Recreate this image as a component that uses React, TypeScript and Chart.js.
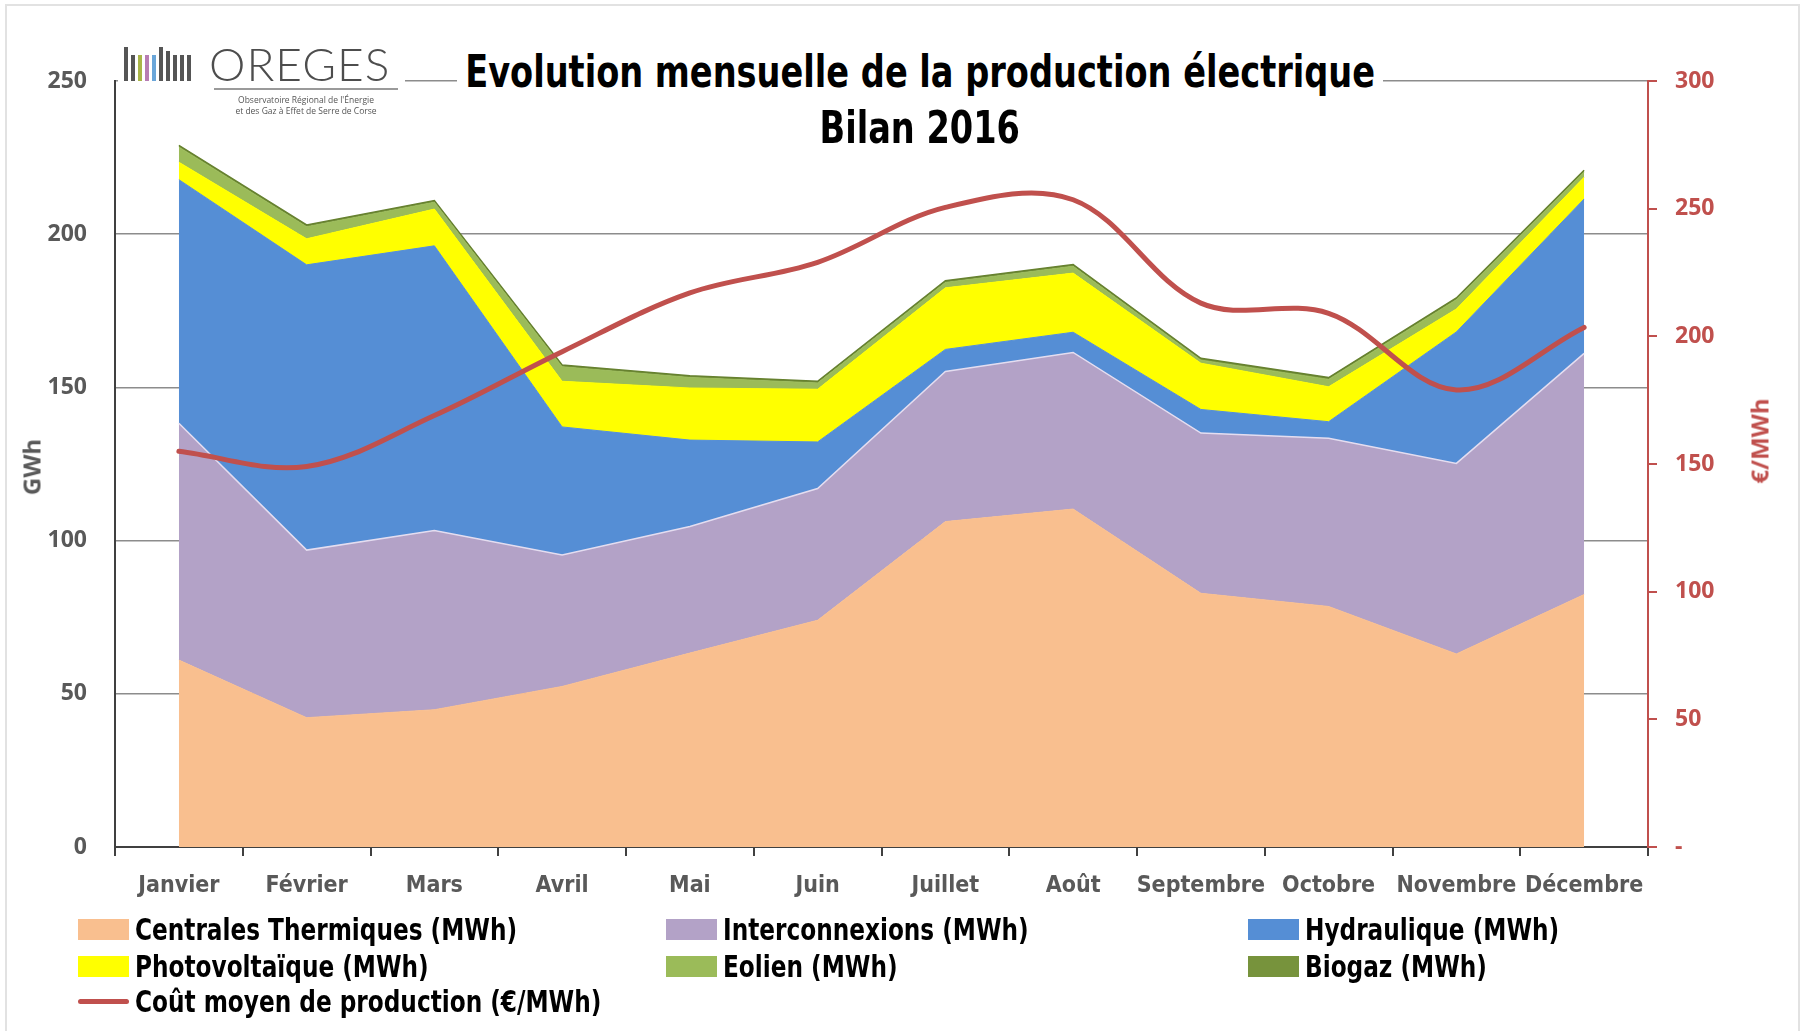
import React, { useEffect, useRef } from 'react';
import { Chart, registerables } from 'chart.js';

Chart.register(...registerables);

// ---------- DATA (GWh per month, cost in €/MWh) ----------
const months = ['Janvier', 'Février', 'Mars', 'Avril', 'Mai', 'Juin', 'Juillet', 'Août', 'Septembre', 'Octobre', 'Novembre', 'Décembre'];
const thermique = [61, 42.2, 44.8, 52.4, 63.3, 74, 106.2, 110.3, 82.8, 78.5, 63, 82.4];
const interconnexions = [77.3, 54.7, 58.5, 42.9, 41.3, 43, 49, 51.1, 52.3, 54.9, 62.2, 78.7];
const hydraulique = [79.5, 93.1, 92.9, 41.8, 28.2, 15.2, 7.2, 6.6, 7.7, 5.4, 42.9, 50.4];
const photovoltaique = [5.7, 8.5, 12, 14.9, 17, 17.2, 20.1, 19.3, 15.1, 11.4, 7.5, 7.1];
const eolien = [4.9, 3.9, 2.2, 4.7, 3.4, 2.0, 1.7, 2.2, 1.0, 2.4, 3.0, 1.7];
const biogaz = [0.6, 0.6, 0.6, 0.6, 0.6, 0.6, 0.6, 0.6, 0.6, 0.6, 0.6, 0.6];
const coutMoyen = [155, 149, 169, 194, 217, 229, 250.5, 253.5, 213, 209, 179, 203.5];

const leftAxis = { min: 0, max: 250, step: 50 };
const rightAxis = { min: 0, max: 300, step: 50 };

const titleLine1 = 'Evolution mensuelle de la production électrique';
const titleLine2 = 'Bilan 2016';
const leftTitle = 'GWh';
const rightTitle = '€/MWh';

const labels = {
  thermique: 'Centrales Thermiques (MWh)',
  interconnexions: 'Interconnexions (MWh)',
  hydraulique: 'Hydraulique (MWh)',
  photovoltaique: 'Photovoltaïque (MWh)',
  eolien: 'Eolien (MWh)',
  biogaz: 'Biogaz (MWh)',
  cout: 'Coût moyen de production (€/MWh)',
};

// ---------- STYLE ----------
const W = 1807;
const H = 1031;
const PLOT = { left: 115, right: 1648, top: 81, bottom: 847 };
const FONT_NARROW = "'Liberation Sans Narrow', 'DejaVu Sans Condensed', 'Open Sans', sans-serif";
const FONT_NUM = "'Open Sans', 'DejaVu Sans', sans-serif";
const C = {
  thermique: '#F9BF8F',
  interconnexions: '#B3A2C7',
  hydraulique: '#558ED5',
  photovoltaique: '#FFFF00',
  eolien: '#9BBB59',
  biogaz: '#77933C',
  cout: '#C0504D',
  axisGrey: '#595959',
};

const legendItems: { key: keyof typeof labels; col: number; row: number; line?: boolean }[] = [
  { key: 'thermique', col: 0, row: 0 },
  { key: 'interconnexions', col: 1, row: 0 },
  { key: 'hydraulique', col: 2, row: 0 },
  { key: 'photovoltaique', col: 0, row: 1 },
  { key: 'eolien', col: 1, row: 1 },
  { key: 'biogaz', col: 2, row: 1 },
  { key: 'cout', col: 0, row: 2, line: true },
];
const legendCols = [78, 666, 1248];
const legendRows = [929, 966, 1001];

const logoBars = [
  { h: 34, c: '#555555' },
  { h: 26, c: '#555555' },
  { h: 26, c: '#A9B548' },
  { h: 26, c: '#B77CB3' },
  { h: 26, c: '#6AA6D9' },
  { h: 34, c: '#555555' },
  { h: 30, c: '#555555' },
  { h: 26, c: '#555555' },
  { h: 26, c: '#555555' },
  { h: 26, c: '#555555' },
];

export default function App() {
  const ref = useRef<HTMLCanvasElement | null>(null);

  useEffect(() => {
    const canvas = ref.current;
    if (!canvas) return;

    const area = (label: string, data: number[], color: string, idx: number, border?: string, bw?: number) => ({
      type: 'line' as const,
      label,
      data,
      yAxisID: 'y',
      backgroundColor: color,
      borderColor: border ?? color,
      borderWidth: bw ?? 1,
      fill: idx === 0 ? 'origin' : '-1',
      pointRadius: 0,
      pointHoverRadius: 0,
      tension: 0,
      order: 1,
    });

    const chart = new Chart(canvas, {
      type: 'line',
      data: {
        labels: months,
        datasets: [
          area(labels.thermique, thermique, C.thermique, 0),
          area(labels.interconnexions, interconnexions, C.interconnexions, 1, '#E4DDF0', 1.5),
          area(labels.hydraulique, hydraulique, C.hydraulique, 2),
          area(labels.photovoltaique, photovoltaique, C.photovoltaique, 3),
          area(labels.eolien, eolien, C.eolien, 4),
          area(labels.biogaz, biogaz, C.biogaz, 5, '#66812F', 1.5),
          {
            type: 'line' as const,
            label: labels.cout,
            data: coutMoyen,
            yAxisID: 'y1',
            borderColor: C.cout,
            backgroundColor: C.cout,
            borderWidth: 5,
            borderCapStyle: 'round',
            fill: false,
            pointRadius: 0,
            tension: 0.35,
            order: 0,
          },
        ] as any,
      },
      options: {
        responsive: false,
        animation: false,
        devicePixelRatio: 1,
        layout: { padding: { top: PLOT.top, left: 0, right: 0, bottom: 0 } },
        plugins: { legend: { display: false }, title: { display: false }, tooltip: { enabled: false } },
        scales: {
          x: {
            type: 'category',
            offset: true,
            z: 1,
            grid: { offset: true, drawOnChartArea: false, drawTicks: true, tickLength: 9, color: '#404040', lineWidth: 2 },
            border: { color: '#404040', width: 2 },
            ticks: {
              color: C.axisGrey,
              font: { family: FONT_NARROW, size: 23, weight: 'bold' },
              padding: 16,
              maxRotation: 0,
              autoSkip: false,
            },
            afterFit: (s: any) => { s.height = H - PLOT.bottom; },
          },
          y: {
            position: 'left',
            stacked: true,
            min: leftAxis.min,
            max: leftAxis.max,
            ticks: {
              stepSize: leftAxis.step,
              color: C.axisGrey,
              font: { family: FONT_NUM, size: 23, weight: 'bold' },
              padding: 28,
            },
            grid: { color: '#8C8C8C', lineWidth: 1.5, drawTicks: false },
            border: { color: '#404040', width: 2 },
            afterFit: (s: any) => { s.width = PLOT.left; },
          },
          y1: {
            position: 'right',
            stacked: false,
            min: rightAxis.min,
            max: rightAxis.max,
            ticks: {
              stepSize: rightAxis.step,
              color: C.cout,
              font: { family: FONT_NUM, size: 23, weight: 'bold' },
              padding: 18,
              callback: (v: any) => (Number(v) === 0 ? '-' : String(v)),
            },
            grid: { drawOnChartArea: false, color: C.cout, tickLength: 9, lineWidth: 2 },
            border: { color: C.cout, width: 2 },
            afterFit: (s: any) => { s.width = W - PLOT.right; },
          },
        },
      } as any,
    });

    return () => chart.destroy();
  }, []);

  const titleStyle: React.CSSProperties = {
    display: 'inline-block',
    transform: 'scaleX(0.83)',
    transformOrigin: 'center',
    whiteSpace: 'nowrap',
  };

  return (
    <div style={{ position: 'fixed', left: 0, top: 0, width: W, height: H, background: '#fff', overflow: 'hidden' }}>
      <div style={{ position: 'absolute', left: 5, top: 4, width: W - 12, height: H + 10, border: '2px solid #E2E2E2', boxSizing: 'border-box' }} />
      <canvas ref={ref} width={W} height={H} style={{ position: 'absolute', left: 0, top: 0, width: W, height: H }} />

      {/* Logo */}
      <div style={{ position: 'absolute', left: 118, top: 40, width: 287, height: 78, background: '#fff' }} />
      <div style={{ position: 'absolute', left: 124, top: 47, height: 34, display: 'flex', alignItems: 'flex-end', gap: 3 }}>
        {logoBars.map((b, i) => (
          <div key={i} style={{ width: 4, height: b.h, background: b.c }} />
        ))}
      </div>
      <div style={{ position: 'absolute', left: 209, top: 36, fontFamily: "'Lato', 'Open Sans', sans-serif", fontWeight: 300, fontSize: 46, letterSpacing: 1, color: '#4D4D4D', lineHeight: '56px', whiteSpace: 'nowrap' }}>OREGES</div>
      <div style={{ position: 'absolute', left: 214, top: 88, width: 184, height: 2, background: '#9A9A9A' }} />
      <div style={{ position: 'absolute', left: 214, top: 94, width: 184, textAlign: 'center', fontFamily: "'Open Sans', sans-serif", fontSize: 8.5, color: '#555', lineHeight: '11px' }}>
        Observatoire Régional de l'Énergie<br />et des Gaz à Effet de Serre de Corse
      </div>

      {/* Title */}
      <div style={{ position: 'absolute', left: 0, width: 1840, top: 44, textAlign: 'center', fontFamily: FONT_NARROW, fontWeight: 'bold', fontSize: 45, color: '#000', lineHeight: '56px' }}>
        <span style={{ ...titleStyle, background: '#fff', padding: '0 10px' }}>{titleLine1}</span>
        <br />
        <span style={titleStyle}>{titleLine2}</span>
      </div>

      {/* Axis titles */}
      <div style={{ position: 'absolute', left: 31, top: 467, transform: 'translate(-50%, -50%) rotate(-90deg)', fontFamily: FONT_NUM, fontWeight: 'bold', fontSize: 24, color: C.axisGrey, whiteSpace: 'nowrap' }}>{leftTitle}</div>
      <div style={{ position: 'absolute', left: 1759, top: 441, transform: 'translate(-50%, -50%) rotate(-90deg)', fontFamily: FONT_NUM, fontWeight: 'bold', fontSize: 24, color: C.cout, whiteSpace: 'nowrap' }}>{rightTitle}</div>

      {/* Legend */}
      {legendItems.map((it) => (
        <div key={it.key} style={{ position: 'absolute', left: legendCols[it.col], top: legendRows[it.row] - 20, height: 40, display: 'flex', alignItems: 'center' }}>
          {it.line ? (
            <div style={{ width: 51, height: 5, borderRadius: 3, background: C.cout, marginRight: 6 }} />
          ) : (
            <div style={{ width: 51, height: 21, background: (C as any)[it.key], marginRight: 6 }} />
          )}
          <span style={{ fontFamily: FONT_NARROW, fontWeight: 'bold', fontSize: 30, color: '#000', whiteSpace: 'nowrap', display: 'inline-block', transform: 'scaleX(0.86)', transformOrigin: 'left center' }}>{labels[it.key]}</span>
        </div>
      ))}
    </div>
  );
}
